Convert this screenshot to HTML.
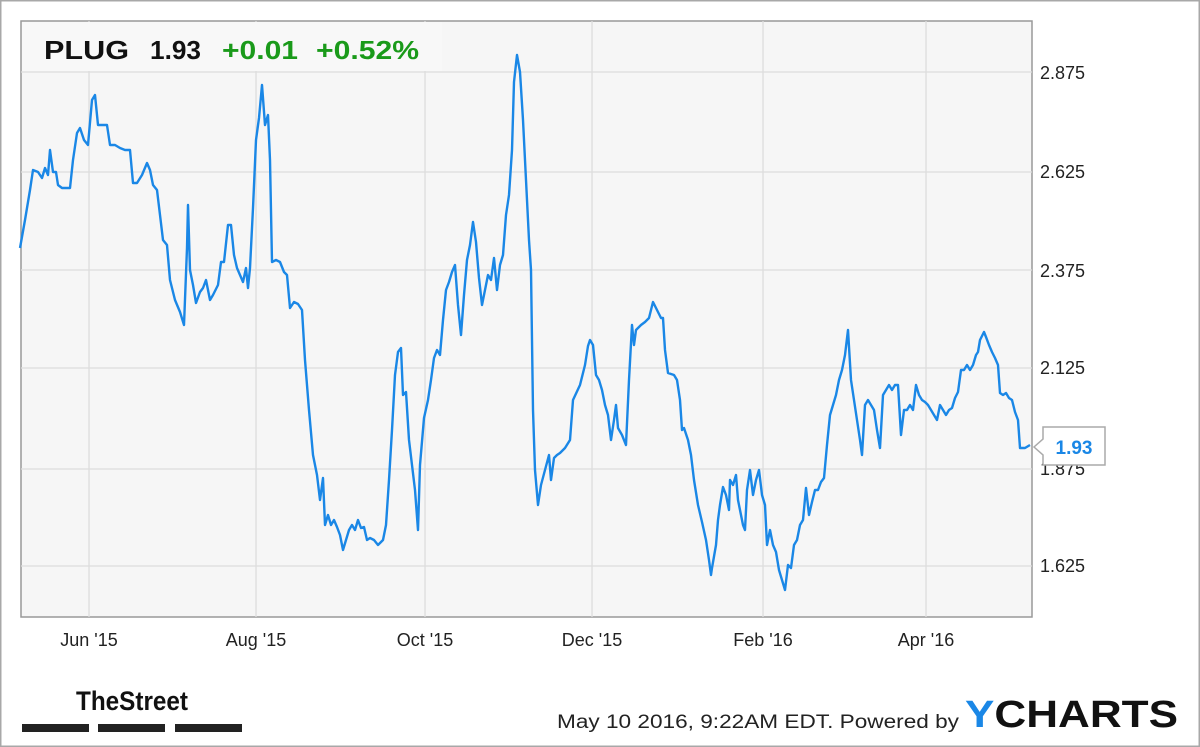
<!DOCTYPE html>
<html><head><meta charset="utf-8"><style>
html,body{margin:0;padding:0;background:#fff;}
svg{display:block;}
</style></head><body>
<svg width="1200" height="747" xmlns="http://www.w3.org/2000/svg" font-family="Liberation Sans, sans-serif">
<rect x="0.5" y="0.5" width="1199" height="746" fill="#fff" stroke="#a8a8a8" stroke-width="2"/>
<rect x="21" y="21" width="1011" height="596" fill="#f6f6f6" stroke="#999" stroke-width="1.5"/>
<g stroke="#dcdcdc" stroke-width="1.3">
<line x1="21" y1="72" x2="1032" y2="72"/><line x1="21" y1="172" x2="1032" y2="172"/>
<line x1="21" y1="270" x2="1032" y2="270"/><line x1="21" y1="368" x2="1032" y2="368"/>
<line x1="21" y1="469" x2="1032" y2="469"/><line x1="21" y1="566" x2="1032" y2="566"/>
<line x1="89" y1="21" x2="89" y2="617"/><line x1="256" y1="21" x2="256" y2="617"/>
<line x1="425" y1="21" x2="425" y2="617"/><line x1="592" y1="21" x2="592" y2="617"/>
<line x1="763" y1="21" x2="763" y2="617"/><line x1="926" y1="21" x2="926" y2="617"/>
</g>
<rect x="22" y="22" width="420" height="49" fill="#f8f8f8"/>
<text x="44" y="59" font-size="26" font-weight="bold" fill="#111" textLength="85" lengthAdjust="spacingAndGlyphs">PLUG</text>
<text x="150" y="59" font-size="26" font-weight="bold" fill="#111" textLength="51" lengthAdjust="spacingAndGlyphs">1.93</text>
<text x="222" y="59" font-size="26" font-weight="bold" fill="#1a9a1a" textLength="76" lengthAdjust="spacingAndGlyphs">+0.01</text>
<text x="316" y="59" font-size="26" font-weight="bold" fill="#1a9a1a" textLength="103" lengthAdjust="spacingAndGlyphs">+0.52%</text>
<polyline fill="none" stroke="#1a87e6" stroke-width="2.4" stroke-linejoin="round" points="20,248 25,220 30,190 33,170 38,172 42,178 45,168 48,175 50,150 53,172 56,172 58,185 62,188 70,188 73,160 77,133 80,128 84,140 88,145 92,100 95,95 98,125 102,125 107,125 110,145 115,145 120,148 125,150 130,150 133,183 137,183 142,175 147,163 150,170 153,185 157,190 160,215 163,240 167,245 170,280 175,300 180,312 184,325 187,248 188,205 190,270 193,285 196,303 200,292 203,288 206,280 210,300 213,295 218,285 221,262 224,262 228,225 231,225 234,255 237,268 240,275 243,282 246,268 248,288 250,268 253,208 256,140 259,118 262,85 265,125 268,115 270,160 272,262 276,260 280,262 284,272 287,275 290,308 294,302 298,304 302,310 305,360 309,410 313,455 317,475 320,500 323,478 325,525 328,515 331,525 334,520 337,527 340,535 343,550 346,540 349,530 352,525 355,530 358,520 361,528 364,527 367,540 370,538 374,540 378,545 383,540 386,525 389,480 392,430 395,375 398,352 401,348 403,395 406,392 409,440 412,465 415,490 418,530 420,465 424,418 428,400 431,380 434,358 437,350 440,355 443,320 446,290 449,282 452,272 455,265 458,305 461,335 464,295 467,260 470,245 473,222 476,242 479,278 482,305 485,290 488,275 491,280 494,258 497,290 500,265 503,255 506,215 509,195 512,150 514,82 517,55 520,72 523,120 526,180 529,240 531,270 533,410 535,470 538,505 541,485 545,470 549,455 551,480 554,458 557,455 560,453 565,448 570,440 573,400 580,385 585,365 588,346 590,340 593,345 596,375 599,380 602,390 605,405 608,415 611,440 614,420 616,405 618,428 622,435 626,445 629,380 632,325 634,345 636,330 641,325 645,322 649,318 653,302 657,310 661,318 663,318 665,350 668,373 674,375 677,380 680,400 682,430 684,428 688,440 691,455 694,480 698,505 702,522 706,540 709,560 711,575 712,568 716,545 718,520 720,505 723,487 726,495 729,510 730,480 733,485 736,475 738,500 741,515 743,525 745,530 747,490 750,470 753,495 756,480 759,470 762,495 765,505 767,545 770,530 773,545 776,552 779,570 782,580 785,590 788,565 791,568 794,545 797,540 800,525 803,520 806,488 809,515 812,502 815,490 818,490 821,482 824,478 827,445 830,415 833,405 836,395 839,380 842,370 845,355 848,330 851,380 854,400 857,420 860,440 862,455 865,405 868,400 871,405 874,410 877,430 880,448 883,395 886,390 889,385 892,390 895,385 898,385 901,435 904,410 907,410 910,405 913,410 916,385 919,395 922,400 925,402 928,405 931,410 934,415 937,420 940,405 943,410 946,415 949,410 952,408 955,398 958,392 961,370 964,370 967,365 970,370 973,365 976,355 978,352 980,340 984,332 986,337 989,345 992,352 995,358 998,365 1000,393 1003,395 1006,393 1009,398 1012,400 1015,412 1018,420 1020,448 1025,448 1030,445"/>
<g font-size="18" fill="#222">
<text x="1040" y="79">2.875</text><text x="1040" y="178">2.625</text>
<text x="1040" y="277">2.375</text><text x="1040" y="374">2.125</text>
<text x="1040" y="475">1.875</text><text x="1040" y="572">1.625</text>
</g>
<path d="M1043,427 H1105 V465 H1043 V455 L1034,447 L1043,439 Z" fill="#fff" stroke="#aaa" stroke-width="1.5"/>
<text x="1074" y="454" font-size="19" font-weight="bold" fill="#1a87e6" text-anchor="middle">1.93</text>
<g font-size="18" fill="#222" text-anchor="middle">
<text x="89" y="646">Jun '15</text><text x="256" y="646">Aug '15</text>
<text x="425" y="646">Oct '15</text><text x="592" y="646">Dec '15</text>
<text x="763" y="646">Feb '16</text><text x="926" y="646">Apr '16</text>
</g>
<text x="76" y="710" font-size="27" font-weight="bold" fill="#111" textLength="112" lengthAdjust="spacingAndGlyphs">TheStreet</text>
<rect x="22" y="724" width="67" height="8" fill="#222"/>
<rect x="98" y="724" width="67" height="8" fill="#222"/>
<rect x="175" y="724" width="67" height="8" fill="#222"/>
<text x="557" y="728" font-size="19" fill="#222" textLength="402" lengthAdjust="spacingAndGlyphs">May 10 2016, 9:22AM EDT.  Powered by</text>
<text x="965" y="727" font-size="38" font-weight="bold" fill="#111" textLength="213" lengthAdjust="spacingAndGlyphs"><tspan fill="#1a87e6">Y</tspan>CHARTS</text>
</svg>
</body></html>
